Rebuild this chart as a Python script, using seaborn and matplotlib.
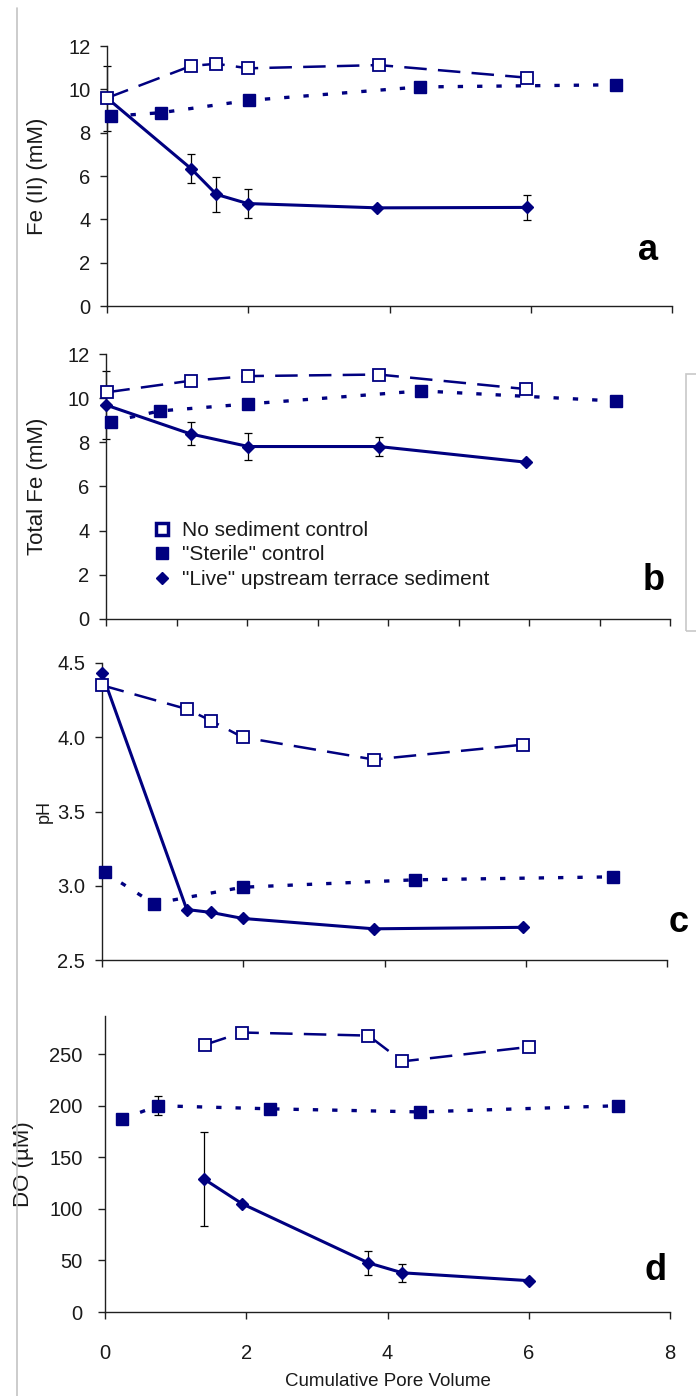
import numpy as np
import pandas as pd
import matplotlib
matplotlib.use("Agg")
import matplotlib.pyplot as plt
import seaborn as sns
from matplotlib.lines import Line2D
from matplotlib.patches import Rectangle

# ---------------- data ----------------
series_names = ["No sediment control", '"Sterile" control', '"Live" upstream terrace sediment']
panel_letters = ["a", "b", "c", "d"]
y_labels = ["Fe (II) (mM)", "Total Fe (mM)", "pH", "DO (\u00b5M)"]
x_label = "Cumulative Pore Volume"

# Panel a: Fe(II)
a_none_x = [0.0, 1.19, 1.55, 2.0, 3.85, 5.94]
a_none_y = [9.6, 11.08, 11.18, 10.97, 11.12, 10.54]
a_ster_x = [0.06, 0.76, 2.01, 4.43, 7.21]
a_ster_y = [8.76, 8.92, 9.49, 10.11, 10.21]
a_live_x = [0.0, 1.19, 1.55, 1.99, 3.83, 5.94]
a_live_y = [9.6, 6.34, 5.15, 4.73, 4.53, 4.55]
a_live_err = [1.5, 0.68, 0.8, 0.68, 0.0, 0.59]

# Panel b: Total Fe
b_none_x = [0.02, 1.2, 2.02, 3.87, 5.96]
b_none_y = [10.27, 10.79, 11.0, 11.07, 10.41]
b_ster_x = [0.07, 0.76, 2.02, 4.47, 7.23]
b_ster_y = [8.94, 9.42, 9.74, 10.33, 9.87]
b_live_x = [0.0, 1.2, 2.02, 3.87, 5.96]
b_live_y = [9.69, 8.38, 7.81, 7.81, 7.1]
b_live_err = [1.52, 0.52, 0.62, 0.44, 0.1]

# Panel c: pH
c_none_x = [0.0, 1.2, 1.55, 1.99, 3.85, 5.96]
c_none_y = [4.35, 4.19, 4.11, 4.0, 3.85, 3.95]
c_ster_x = [0.04, 0.73, 1.99, 4.43, 7.23]
c_ster_y = [3.09, 2.88, 2.99, 3.04, 3.06]
c_live_x = [0.0, 1.2, 1.55, 1.99, 3.85, 5.96]
c_live_y = [4.43, 2.84, 2.82, 2.78, 2.71, 2.72]

# Panel d: DO
d_none_x = [1.41, 1.94, 3.73, 4.21, 6.0]
d_none_y = [259, 271, 268, 243, 257]
d_ster_x = [0.24, 0.75, 2.34, 4.46, 7.27]
d_ster_y = [187, 200, 197, 194, 200]
d_ster_err = [3, 9, 0, 0, 0]
d_live_x = [1.4, 1.94, 3.73, 4.21, 6.0]
d_live_y = [129, 105, 47.6, 38, 30.4]
d_live_err = [46, 0, 11.5, 9, 0]

# ---------------- style ----------------
sns.set_theme(style="ticks")
plt.rcParams["font.family"] = ["Liberation Sans", "DejaVu Sans"]
NAVY = "#000080"
TXT = "#1a1a1a"

W, H = 696, 1396
fig = plt.figure(figsize=(W / 100, H / 100), dpi=100)
fig.patch.set_facecolor("white")


def px_axes(left, right, top, bottom):
    return fig.add_axes([left / W, 1 - bottom / H, (right - left) / W, (bottom - top) / H])


axes = [
    px_axes(107, 672, 46, 306),
    px_axes(106, 670, 354, 619),
    px_axes(102, 667, 663, 960),
    px_axes(105, 670, 1016, 1312),
]

styles = {
    "none": dict(linestyle=(0, (9.0, 4.5)), linewidth=1.8, marker="s", markersize=8.5,
                 markerfacecolor="white", markeredgecolor=NAVY, markeredgewidth=1.3),
    "ster": dict(linestyle=(0, (1.6, 4.2)), linewidth=2.4, marker="s", markersize=8.5,
                 markerfacecolor=NAVY, markeredgecolor=NAVY, markeredgewidth=1.0),
    "live": dict(linestyle="-", linewidth=2.2, marker="D", markersize=6.5,
                 markerfacecolor=NAVY, markeredgecolor=NAVY, markeredgewidth=1.0),
}

panels = [
    dict(live=(a_live_x, a_live_y, a_live_err), ster=(a_ster_x, a_ster_y, None), none=(a_none_x, a_none_y, None)),
    dict(live=(b_live_x, b_live_y, b_live_err), ster=(b_ster_x, b_ster_y, None), none=(b_none_x, b_none_y, None)),
    dict(live=(c_live_x, c_live_y, None), ster=(c_ster_x, c_ster_y, None), none=(c_none_x, c_none_y, None)),
    dict(live=(d_live_x, d_live_y, d_live_err), ster=(d_ster_x, d_ster_y, d_ster_err), none=(d_none_x, d_none_y, None)),
]

ypads = [7, 7, 7, 11]
for ax, pdata, yp in zip(axes, panels, ypads):
    for key in ["live", "ster", "none"]:
        xs, ys, errs = pdata[key]
        df = pd.DataFrame({"x": xs, "y": ys})
        sns.lineplot(data=df, x="x", y="y", ax=ax, sort=False, estimator=None, errorbar=None,
                     color=NAVY, legend=False, zorder=3, clip_on=False, **styles[key])
        if errs is not None:
            e = np.asarray(errs, dtype=float)
            m = e > 0
            ax.errorbar(np.asarray(xs)[m], np.asarray(ys)[m], yerr=e[m], fmt="none",
                        ecolor="black", elinewidth=0.9, capsize=3.2, capthick=0.9, zorder=2,
                        clip_on=False)
    ax.set_xlim(0, 8)
    sns.despine(ax=ax)
    for s in ["left", "bottom"]:
        ax.spines[s].set_color("#202020")
        ax.spines[s].set_linewidth(1.0)
    ax.tick_params(axis="both", direction="out", length=5, width=1, colors="#202020",
                   labelcolor=TXT, labelsize=14.5)
    ax.tick_params(axis="y", pad=yp)
    ax.tick_params(axis="x", pad=18)
    ax.set_xlabel("")
    ax.set_facecolor("white")

# axis specifics
axes[0].set_ylim(0, 12)
axes[0].set_yticks(np.arange(0, 13, 2))
axes[0].set_xticks([0, 2, 4, 6, 8])
axes[0].set_xticklabels([])

axes[1].set_ylim(0, 12)
axes[1].set_yticks(np.arange(0, 13, 2))
axes[1].set_xticks(np.arange(0, 9, 1))
axes[1].set_xticklabels([])

axes[2].set_ylim(2.5, 4.5)
axes[2].set_yticks(np.arange(2.5, 4.51, 0.5))
axes[2].set_yticklabels([f"{v:.1f}" for v in np.arange(2.5, 4.51, 0.5)])
axes[2].set_xticks([0, 2, 4, 6, 8])
axes[2].set_xticklabels([])

axes[3].set_ylim(0, 287)
axes[3].set_yticks(np.arange(0, 251, 50))
axes[3].set_xticks([0, 2, 4, 6, 8])
axes[3].set_xticklabels([str(v) for v in [0, 2, 4, 6, 8]])
axes[3].set_xlabel(x_label, fontsize=13.5, color=TXT, va="center")
axes[3].xaxis.set_label_coords(0.5, (1312 - 1381) / (1312 - 1016))

# y labels
label_x_px = [38, 38, 44, 24]
label_sizes = [16, 16, 13, 16]
for ax, lab, xc, fs in zip(axes, y_labels, label_x_px, label_sizes):
    ax.set_ylabel(lab, fontsize=fs, color=TXT, va="center")
    bb = ax.get_position()
    left_px = bb.x0 * W
    width_px = bb.width * W
    ax.yaxis.set_label_coords((xc - left_px) / width_px, 0.5)

# panel letters
letter_pos = [(648, 250), (654, 580), (679, 922), (656, 1270)]
for let, (lx, ly) in zip(panel_letters, letter_pos):
    fig.text(lx / W, 1 - ly / H, let, fontsize=26, fontweight="bold", color="black",
             ha="center", va="center")

# legend in panel b
handles = [
    Line2D([], [], linestyle="none", marker="s", markersize=9, markerfacecolor="white",
           markeredgecolor=NAVY, markeredgewidth=2.5),
    Line2D([], [], linestyle="none", marker="s", markersize=9, markerfacecolor=NAVY,
           markeredgecolor=NAVY),
    Line2D([], [], linestyle="none", marker="D", markersize=6.5, markerfacecolor=NAVY,
           markeredgecolor=NAVY),
]
axes[1].legend(handles, series_names, loc="upper left",
               bbox_to_anchor=(152 / W, 1 - 521 / H), bbox_transform=fig.transFigure,
               frameon=False, handlelength=0.95, handletextpad=0.5, labelspacing=0.26,
               borderpad=0, borderaxespad=0, fontsize=15, labelcolor=TXT)

# decorative frame pieces (left border line and partial box at right)
fig.add_artist(Line2D([17 / W, 17 / W], [1 - 8 / H, 0], transform=fig.transFigure,
                      color="#c4c4c4", linewidth=1.2))
fig.add_artist(Rectangle((686 / W, 1 - 631 / H), 30 / W, (631 - 374) / H,
                         transform=fig.transFigure, fill=False, edgecolor="#c8c8c8",
                         linewidth=1.2))

fig.savefig("out.png", dpi=100, facecolor="white")
